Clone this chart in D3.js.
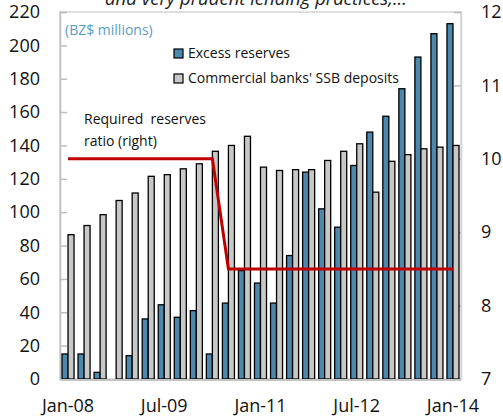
<!DOCTYPE html>
<html>
<head>
<meta charset="utf-8">
<script src="https://cdn.jsdelivr.net/npm/d3@7"></script>
<style>
  body { margin: 0; background: #fff; }
  svg { display: block; font-family: 'Open Sans', sans-serif; }
</style>
</head>
<body>
<svg id="chart"></svg>
<script>
const quarters = [
  'Jan-08', 'Apr-08', 'Jul-08', 'Oct-08', 'Jan-09', 'Apr-09', 'Jul-09', 'Oct-09',
  'Jan-10', 'Apr-10', 'Jul-10', 'Oct-10', 'Jan-11', 'Apr-11', 'Jul-11', 'Oct-11',
  'Jan-12', 'Apr-12', 'Jul-12', 'Oct-12', 'Jan-13', 'Apr-13', 'Jul-13', 'Oct-13', 'Jan-14'
];
const shownLabels = ['Jan-08', 'Jul-09', 'Jan-11', 'Jul-12', 'Jan-14'];

const excessReserves = [15, 15, 4, 0, 14, 36, 44.5, 37, 41, 15, 45.5, 65, 57.5, 45.5,
  74, 124, 102, 91, 128, 148, 157.5, 174, 193, 207, 213];
const ssbDeposits = [86.5, 92, 98.5, 107, 111.5, 121.5, 122.5, 126, 129, 136.5, 140, 145.5,
  127, 125, 125.5, 125.5, 131, 136.5, 141, 112, 130.5, 134.5, 138, 139, 140];
const requiredRatio = [10, 10, 10, 10, 10, 10, 10, 10, 10, 10, 8.5, 8.5, 8.5, 8.5,
  8.5, 8.5, 8.5, 8.5, 8.5, 8.5, 8.5, 8.5, 8.5, 8.5, 8.5];

const leftTicks = [0, 20, 40, 60, 80, 100, 120, 140, 160, 180, 200, 220];
const rightTicks = [7, 8, 9, 10, 11, 12];

const width = 503;
const height = 419;
const plot = { left: 60, right: 461, top: 12, bottom: 379 };

const svg = d3.select('#chart')
  .attr('width', width)
  .attr('height', height);

const x = d3.scaleBand()
  .domain(quarters)
  .range([plot.left, plot.right])
  .paddingInner(0.25)
  .paddingOuter(0.125);

const xSub = d3.scaleBand()
  .domain(['excess', 'ssb'])
  .range([0, x.bandwidth()]);

const yLeft = d3.scaleLinear().domain([0, 220]).range([plot.bottom, plot.top]);
const yRight = d3.scaleLinear().domain([7, 12]).range([plot.bottom, plot.top]);

// title, cut off at the top of the picture
svg.append('text')
  .attr('x', 256)
  .attr('y', 5)
  .attr('text-anchor', 'middle')
  .attr('font-size', 18.5)
  .attr('font-style', 'italic')
  .attr('fill', '#222')
  .text('and very prudent lending practices,...');

// frame
svg.append('rect')
  .attr('x', plot.left)
  .attr('y', plot.top)
  .attr('width', plot.right - plot.left)
  .attr('height', plot.bottom - plot.top)
  .attr('fill', 'none')
  .attr('stroke', '#d4d4d4')
  .attr('stroke-width', 1.5);

// left axis
const leftAxis = svg.append('g')
  .attr('transform', `translate(${plot.left},0)`)
  .call(d3.axisLeft(yLeft).tickValues(leftTicks).tickSize(-7).tickPadding(20));
leftAxis.select('.domain').attr('stroke', '#bfbfbf').attr('stroke-width', 1.5);
leftAxis.selectAll('.tick line').attr('stroke', '#bfbfbf').attr('stroke-width', 1.5);
leftAxis.selectAll('.tick text')
  .attr('font-size', 18)
  .attr('font-family', 'Open Sans, sans-serif')
  .attr('fill', '#111');

// right axis
const rightAxis = svg.append('g')
  .attr('transform', `translate(${plot.right},0)`)
  .call(d3.axisRight(yRight).tickValues(rightTicks).tickFormat(d3.format('d'))
    .tickSize(-7).tickPadding(20));
rightAxis.select('.domain').attr('stroke', '#d4d4d4').attr('stroke-width', 1.5);
rightAxis.selectAll('.tick line').attr('stroke', '#bfbfbf').attr('stroke-width', 1.5);
rightAxis.selectAll('.tick text')
  .attr('font-size', 18)
  .attr('font-family', 'Open Sans, sans-serif')
  .attr('fill', '#111');

// bars
const groups = svg.append('g')
  .selectAll('g')
  .data(quarters)
  .enter()
  .append('g')
  .attr('transform', d => `translate(${x(d)},0)`);

groups.append('rect')
  .attr('x', xSub('excess'))
  .attr('width', xSub.bandwidth())
  .attr('y', (d, i) => yLeft(excessReserves[i]))
  .attr('height', (d, i) => yLeft(0) - yLeft(excessReserves[i]))
  .attr('fill', '#4a88ad')
  .attr('stroke', '#000')
  .attr('stroke-width', 1.3);

groups.append('rect')
  .attr('x', xSub('ssb'))
  .attr('width', xSub.bandwidth())
  .attr('y', (d, i) => yLeft(ssbDeposits[i]))
  .attr('height', (d, i) => yLeft(0) - yLeft(ssbDeposits[i]))
  .attr('fill', '#c8c8c8')
  .attr('stroke', '#000')
  .attr('stroke-width', 1.3);

// bottom axis line
svg.append('line')
  .attr('x1', plot.left)
  .attr('x2', plot.right)
  .attr('y1', plot.bottom + 1)
  .attr('y2', plot.bottom + 1)
  .attr('stroke', '#c4c4c4')
  .attr('stroke-width', 2);

// x labels
const xAxis = svg.append('g')
  .attr('transform', `translate(0,${plot.bottom})`)
  .call(d3.axisBottom(x).tickValues(shownLabels).tickSize(0).tickPadding(20));
xAxis.select('.domain').remove();
xAxis.selectAll('.tick text')
  .attr('font-size', 18)
  .attr('font-family', 'Open Sans, sans-serif')
  .attr('fill', '#111');

// required reserves ratio line
const line = d3.line()
  .x((d, i) => x(quarters[i]) + x.bandwidth() / 2)
  .y(d => yRight(d));

svg.append('path')
  .datum(requiredRatio)
  .attr('d', line)
  .attr('fill', 'none')
  .attr('stroke', '#c00000')
  .attr('stroke-width', 3);

// annotations
svg.append('text')
  .attr('x', 65)
  .attr('y', 35)
  .attr('font-size', 14)
  .attr('fill', '#5b9cc6')
  .text('(BZ$ millions)');

svg.append('text')
  .attr('x', 84)
  .attr('y', 124)
  .attr('font-size', 14)
  .attr('fill', '#111')
  .style('white-space', 'pre')
  .text('Required  reserves');

svg.append('text')
  .attr('x', 84)
  .attr('y', 146)
  .attr('font-size', 14)
  .attr('fill', '#111')
  .text('ratio (right)');

// legend
const legendItems = [
  { label: 'Excess reserves', fill: '#4a88ad' },
  { label: "Commercial banks' SSB deposits", fill: '#c8c8c8' }
];

const legend = svg.append('g')
  .selectAll('g')
  .data(legendItems)
  .enter()
  .append('g')
  .attr('transform', (d, i) => `translate(174,${49 + i * 25})`);

legend.append('rect')
  .attr('width', 9)
  .attr('height', 9)
  .attr('fill', d => d.fill)
  .attr('stroke', '#000')
  .attr('stroke-width', 1.2);

legend.append('text')
  .attr('x', 14)
  .attr('y', 9)
  .attr('font-size', 14)
  .attr('fill', '#111')
  .text(d => d.label);
</script>
</body>
</html>
